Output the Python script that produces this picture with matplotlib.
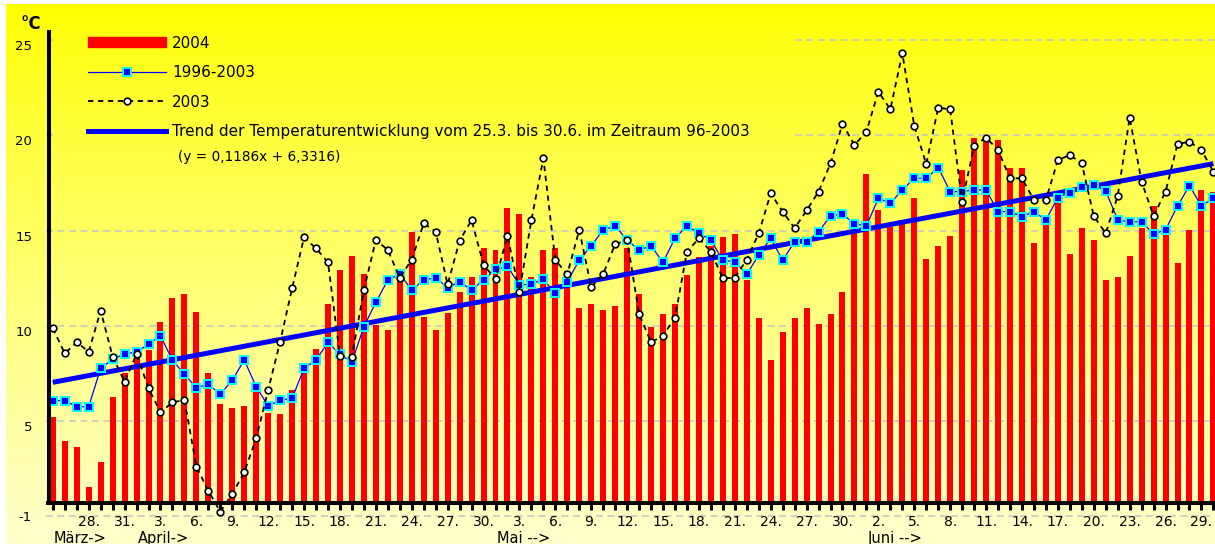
import numpy as np
import matplotlib
matplotlib.use("Agg")
import matplotlib.pyplot as plt
import matplotlib.transforms as mtransforms
from matplotlib.lines import Line2D
from matplotlib.patches import Patch

plt.rcParams['font.family'] = ['DejaVu Sans']

# ---------------- data ----------------
day_of_month = (list(range(25, 32)) + list(range(1, 31)) +
                list(range(1, 32)) + list(range(1, 31)))
month_names = ["März->", "April->", "Mai -->", "Juni -->"]
month_start_index = [0, 7, 37, 68]

temp_2004 = [5.23, 3.97, 3.65, 1.55, 2.83, 6.28, 7.5, 8.29, 8.73, 10.18,
             11.44, 11.65, 10.7, 7.54, 5.87, 5.67, 5.79, 6.8, 5.4, 5.35,
             6.63, 7.5, 8.8, 11.14, 12.93, 13.66, 12.7, 10.04, 9.78, 12.7,
             14.94, 10.48, 9.78, 10.65, 11.79, 12.57, 14.06, 13.98, 16.17, 15.87,
             12.57, 13.98, 14.06, 12.4, 10.91, 11.12, 10.83, 11.04, 14.06, 11.67,
             9.95, 10.6, 11.12, 12.66, 13.62, 14.2, 14.68, 14.8, 12.4, 10.39,
             8.2, 9.66, 10.39, 10.91, 10.07, 10.6, 11.75, 14.85, 17.95, 16.08,
             15.2, 15.55, 16.69, 13.53, 14.19, 14.71, 18.15, 19.84, 19.96, 19.75,
             18.26, 18.26, 14.36, 15.29, 16.78, 13.75, 15.12, 14.5, 12.4, 12.57,
             13.66, 15.12, 16.29, 14.76, 13.32, 15.03, 17.1, 17.0]

mean_1996_2003 = [6.07, 6.07, 5.75, 5.75, 7.77, 8.24, 8.52, 8.62, 9.04, 9.46,
                  8.2, 7.45, 6.75, 6.93, 6.4, 7.15, 8.2, 6.8, 5.79, 6.1,
                  6.19, 7.77, 8.2, 9.13, 8.5, 8.1, 9.95, 11.23, 12.4, 12.72,
                  11.88, 12.4, 12.52, 12.0, 12.31, 11.88, 12.4, 12.96, 13.12, 12.14,
                  12.19, 12.44, 11.7, 12.31, 13.44, 14.19, 15.03, 15.24, 14.5, 13.98,
                  14.19, 13.33, 14.59, 15.25, 14.85, 14.5, 13.44, 13.36, 12.71, 13.7,
                  14.59, 13.44, 14.41, 14.38, 14.94, 15.76, 15.87, 15.34, 15.25, 16.69,
                  16.43, 17.13, 17.74, 17.74, 18.3, 17.04, 17.04, 17.13, 17.13, 15.99,
                  15.99, 15.73, 15.99, 15.55, 16.73, 16.99, 17.3, 17.39, 17.09, 15.55,
                  15.46, 15.46, 14.81, 15.03, 16.29, 17.35, 16.29, 16.69]

temp_2003 = [9.87, 8.55, 9.13, 8.64, 10.79, 8.38, 7.06, 8.52, 6.72, 5.46,
             5.98, 6.1, 2.61, 1.33, 0.24, 1.17, 2.31, 4.09, 6.63, 9.16,
             11.97, 14.64, 14.06, 13.33, 8.41, 8.38, 11.88, 14.5, 13.98, 12.52,
             13.47, 15.37, 14.94, 12.17, 14.46, 15.55, 13.2, 12.44, 14.71, 11.79,
             15.55, 18.79, 13.44, 12.71, 15.03, 12.02, 12.71, 14.28, 14.5, 10.62,
             9.13, 9.48, 10.42, 13.89, 14.59, 13.89, 12.49, 12.52, 13.47, 14.85,
             16.95, 15.99, 15.12, 16.05, 17.04, 18.52, 20.59, 19.49, 20.19, 22.29,
             21.36, 24.3, 20.49, 18.49, 21.45, 21.36, 16.5, 19.45, 19.88, 19.22,
             17.74, 17.74, 16.6, 16.6, 18.7, 18.96, 18.52, 15.76, 14.85, 16.8,
             20.92, 17.56, 15.76, 17.04, 19.54, 19.66, 19.22, 18.08]

trend_day_index = [0, 97]
trend_values = [7.03, 18.51]

ytick_values = [0, 5, 10, 15, 20, 25]
ytick_labels = ["-1", "5", "10", "15", "20", "25"]

legend_labels = ["2004", "1996-2003", "2003",
                 "Trend der Temperaturentwicklung vom 25.3. bis 30.6. im Zeitraum 96-2003"]
equation_text = "(y = 0,1186x + 6,3316)"
title_text = ("Vergleich der Temperaturen vom 25.3. bis 30.6.2004 mit dem Temperaturgang "
              "(Tagesmittel 1996-2003) und 2003)")

# ---------------- layout helpers (pixel geometry of the reference) ----------------
W, H, DPI = 1215, 544, 100
X0, DX = 52.8, 11.965          # pixel x of first day, pixel per day
Y5, PPU = 421.0, 19.05         # pixel y of value 5, pixel per unit


def px_to_i(px):
    return (px - X0) / DX


def py_to_v(py):
    return 5 + (Y5 - py) / PPU


fig = plt.figure(figsize=(W / DPI, H / DPI), dpi=DPI, facecolor='white')

# background gradient (yellow -> pale yellow)
bg = fig.add_axes([0, 0, 1, 1], zorder=-10)
bg.set_axis_off()
t = np.linspace(0, 1, 256)[:, None, None] ** 0.85
top_c = np.array([1.0, 1.0, 0.0])[None, None, :]
bot_c = np.array([1.0, 1.0, 0.8])[None, None, :]
img = top_c * (1 - t) + bot_c * t
img = np.repeat(img, 2, axis=1)
bg.imshow(img, aspect='auto', extent=(6, W, H, 4), interpolation='bilinear')
bg.set_xlim(0, W)
bg.set_ylim(H, 0)

# main axes
AX_L, AX_T, AX_B = 46, 12, 518
ax = fig.add_axes([AX_L / W, (H - AX_B) / H, (W - AX_L) / W, (AX_B - AX_T) / H])
ax.set_xlim(px_to_i(AX_L), px_to_i(W))
ax.set_ylim(py_to_v(AX_B), py_to_v(AX_T))
ax.patch.set_alpha(0)
for s in ax.spines.values():
    s.set_visible(False)

idx = np.arange(len(temp_2004))
base = py_to_v(503)

# grid lines
grid_kw = dict(color='#C4C4C4', lw=1.1, ls=(0, (4.5, 3)), zorder=0.5)
ax_w = W - AX_L
for v in ytick_values:
    if v >= 20:
        ax.axhline(v, xmin=0, xmax=(53 - AX_L) / ax_w, **grid_kw)
        ax.axhline(v, xmin=(795 - AX_L) / ax_w, xmax=1, **grid_kw)
    else:
        ax.axhline(v, **grid_kw)

# bars 2004
ax.bar(idx, np.array(temp_2004) - base, bottom=base, width=0.5,
       color='#FF0000', linewidth=0, zorder=2)

# trend line
ax.plot(trend_day_index, trend_values, color='#0000FF', lw=3.6, zorder=3,
        solid_capstyle='butt')

# mean 1996-2003
ax.plot(idx, mean_1996_2003, color='#0000FF', lw=0.9, marker='s', ms=6,
        mfc='#0000FF', mec='#00FFFF', mew=1.4, zorder=4)

# 2003
ax.plot(idx, temp_2003, color='black', lw=1.3, ls=(0, (3, 2.5)), marker='o',
        ms=4.8, mfc='white', mec='black', mew=1.2, zorder=6, clip_on=False)

# axes lines
ax.axhline(base, color='black', lw=2.9, zorder=7)
ax.vlines(idx, py_to_v(510), base, color='black', lw=2.2, zorder=7)
ax.plot([px_to_i(48.7)] * 2, [py_to_v(505), py_to_v(30)], color='black',
        lw=2.9, zorder=7, clip_on=False, solid_capstyle='butt')

# y ticks
ax.set_yticks(ytick_values, ytick_labels)
ax.tick_params(axis='y', length=0, pad=10, labelsize=9.5)
shift = mtransforms.ScaledTranslation(0, -5 / DPI, fig.dpi_scale_trans)
for lab, v in zip(ax.get_yticklabels(), ytick_values):
    if v != 0:
        lab.set_transform(lab.get_transform() + shift)

# x ticks
ax.set_xticks(idx[3::3], [f"{d}." for d in day_of_month[3::3]])
ax.tick_params(axis='x', length=0, pad=-2.5, labelsize=10)

# month labels
mtrans = mtransforms.blended_transform_factory(ax.transData, ax.transAxes)
for name, st in zip(month_names, month_start_index):
    ax.text(st + 0.1, (AX_B - 531) / (AX_B - AX_T), name, transform=mtrans,
            ha='left', va='top', fontsize=10.5, clip_on=False)

# legend
handles = [
    Patch(facecolor='#FF0000', edgecolor='#FF0000'),
    Line2D([], [], color='#0000FF', lw=0.9, marker='s', ms=6, mfc='#0000FF',
           mec='#00FFFF', mew=1.4),
    Line2D([], [], color='black', lw=1.3, ls=(0, (3, 2.5)), marker='o', ms=4.8,
           mfc='white', mec='black', mew=1.2),
    Line2D([], [], color='#0000FF', lw=3.6),
]
ax.legend(handles, legend_labels, loc='upper left',
          bbox_to_anchor=(88 / W, 1 - 35.5 / H), bbox_transform=fig.transFigure,
          frameon=False, fontsize=11, handlelength=5.1, handletextpad=0.4,
          labelspacing=0.95, borderpad=0, borderaxespad=0, numpoints=1,
          handleheight=0.65)

fig.text(178 / W, 1 - 157 / H, equation_text, ha='left', va='center', fontsize=9.8)
fig.text(31 / W, 1 - 24 / H, "°C", ha='center', va='center', fontsize=12,
         fontweight='bold')
fig.text(60 / W, 1 + 5.5 / H, title_text, ha='left', va='baseline', fontsize=12,
         fontweight='bold')

fig.savefig("out.png", dpi=DPI, facecolor='white')
